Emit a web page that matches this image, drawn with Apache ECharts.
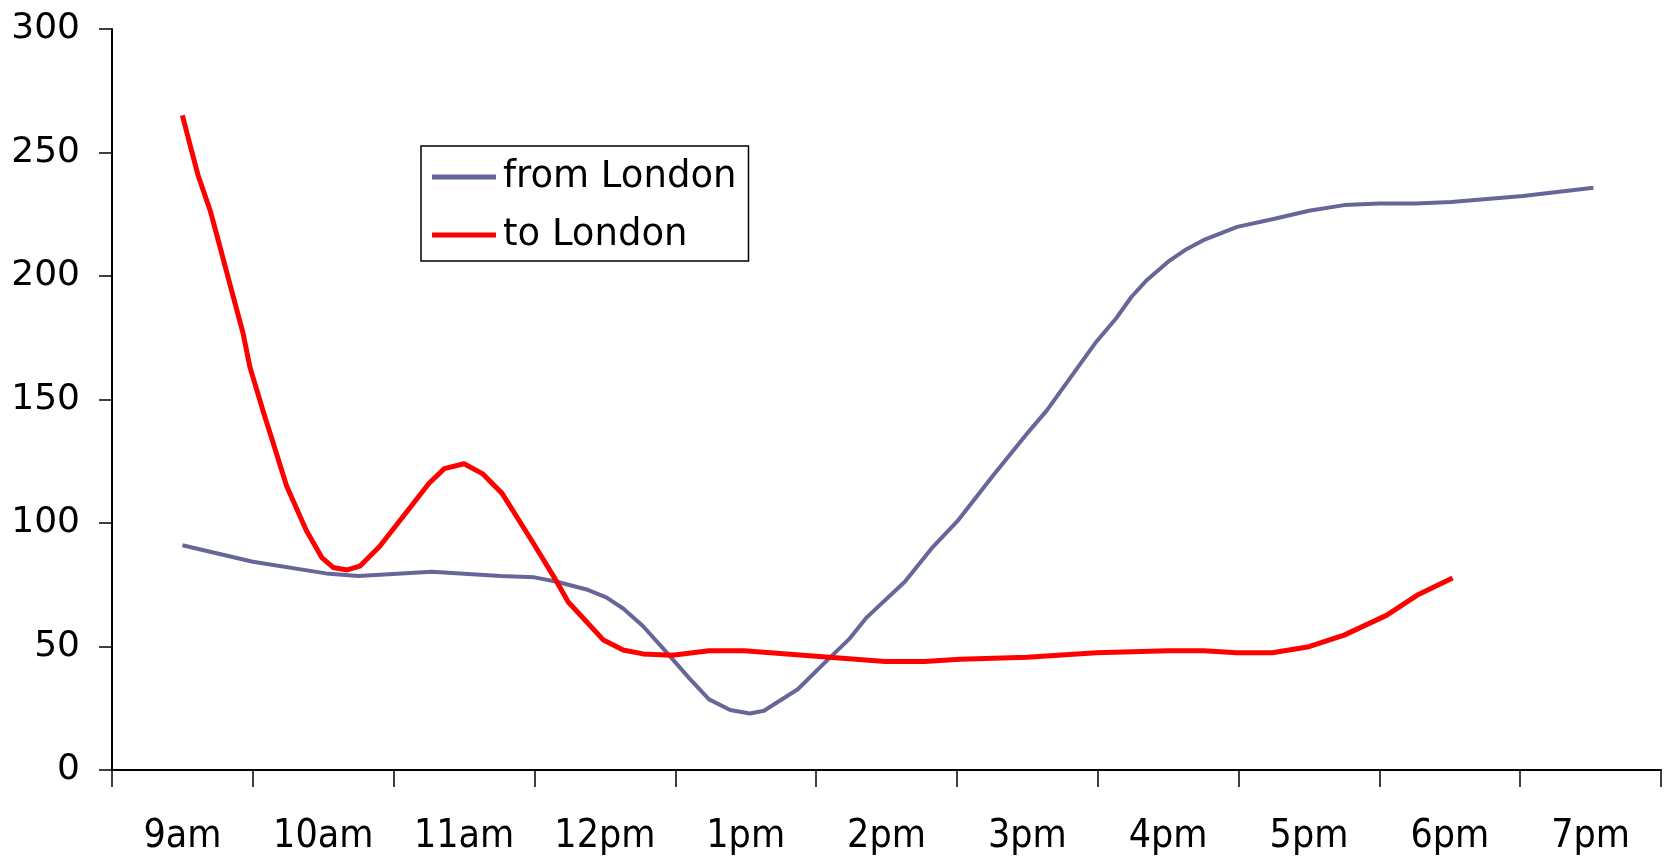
<!DOCTYPE html>
<html>
<head>
<meta charset="utf-8">
<title>Journeys from and to London</title>
<script src="https://cdn.jsdelivr.net/npm/echarts@6/dist/echarts.min.js"></script>
<style>
  html, body { margin: 0; padding: 0; background: #ffffff; }
  #chart { width: 1672px; height: 866px; }
</style>
</head>
<body>
<div id="chart"></div>
<script>
// Hour-of-day labels, one per slot on the time axis
const hourLabels = ['9am', '10am', '11am', '12pm', '1pm', '2pm', '3pm', '4pm', '5pm', '6pm', '7pm'];

// "from London": time (decimal hours) and value
const fromTimes = [9.00, 9.50, 10.02, 10.25, 10.77, 11.26, 11.50, 11.66, 11.87, 12.01, 12.13, 12.27, 12.44, 12.60, 12.74, 12.89, 13.03, 13.13, 13.37, 13.58, 13.74, 13.86, 14.13, 14.32, 14.51, 14.76, 15.01, 15.14, 15.49, 15.63, 15.74, 15.85, 16.00, 16.12, 16.25, 16.49, 16.74, 17.00, 17.25, 17.50, 17.76, 18.01, 18.52, 19.02];
const fromValues = [91, 84.3, 79.6, 78.5, 80.3, 78.5, 78, 76.2, 73.1, 69.9, 65.4, 58.3, 47.5, 37.1, 28.6, 24.3, 22.9, 24, 32.7, 44.5, 53.3, 61.8, 76.2, 89.7, 101.2, 119.4, 137, 145.7, 173.4, 182.8, 191.6, 198.4, 205.8, 210.5, 214.5, 219.9, 223, 226.4, 228.7, 229.4, 229.4, 230, 232.4, 235.7];

// "to London": time (decimal hours) and value
const toTimes = [9.00, 9.05, 9.11, 9.20, 9.28, 9.35, 9.43, 9.48, 9.58, 9.63, 9.74, 9.88, 9.99, 10.07, 10.17, 10.26, 10.40, 10.62, 10.75, 10.86, 11.00, 11.13, 11.27, 11.49, 11.64, 11.74, 11.87, 11.99, 12.13, 12.27, 12.48, 12.74, 12.99, 13.50, 13.99, 14.27, 14.52, 15.00, 15.49, 16.00, 16.25, 16.49, 16.74, 17.00, 17.25, 17.55, 17.77, 18.02];
const toValues = [265, 254, 241, 226, 209, 194, 177, 163, 144, 135, 115, 97, 86, 82, 81, 82.5, 90.5, 106.5, 116, 122, 124, 120, 112, 92, 78, 68, 60, 52.6, 48.6, 47, 46.5, 48.3, 48.3, 46.1, 43.9, 43.9, 44.8, 45.6, 47.5, 48.3, 48.3, 47.5, 47.5, 49.9, 54.6, 62.6, 70.8, 77.7];

// Value axis ticks
const yMin = 0, yMax = 300, yStep = 50;

const pairs = (xs, ys) => xs.map((x, i) => [x, ys[i]]);

const chart = echarts.init(document.getElementById('chart'), null, { renderer: 'canvas' });

chart.setOption({
  backgroundColor: '#ffffff',
  animation: false,
  grid: { left: 112, right: 11, top: 29, bottom: 96, containLabel: false },
  legend: {
    orient: 'vertical',
    left: 421,
    top: 146,
    padding: [8, 12, 3, 11],
    itemGap: 12,
    itemWidth: 64,
    itemHeight: 5,
    icon: 'rect',
    borderColor: '#000000',
    borderWidth: 1.5,
    backgroundColor: '#ffffff',
    textStyle: { fontFamily: 'DejaVu Sans', fontSize: 37, color: '#000000', lineHeight: 42, padding: [4, 0, 0, 2] },
    data: ['from London', 'to London']
  },
  xAxis: [
    {
      type: 'category',
      data: hourLabels,
      boundaryGap: true,
      axisLine: { show: true, lineStyle: { color: '#000000', width: 2 } },
      axisTick: { show: true, length: 17, alignWithLabel: false, lineStyle: { color: '#000000', width: 1.5 } },
      axisLabel: { margin: 47, fontFamily: 'DejaVu Sans Condensed', fontSize: 39, color: '#000000' },
      splitLine: { show: false }
    },
    {
      type: 'value',
      min: 8.5,
      max: 19.5,
      show: false,
      splitLine: { show: false }
    }
  ],
  yAxis: {
    type: 'value',
    min: yMin,
    max: yMax,
    interval: yStep,
    axisLine: { show: true, lineStyle: { color: '#000000', width: 2 } },
    axisTick: { show: true, length: 13, lineStyle: { color: '#000000', width: 1.5 } },
    axisLabel: { margin: 32, fontFamily: 'DejaVu Sans', fontSize: 36, color: '#000000' },
    splitLine: { show: false }
  },
  series: [
    {
      name: 'from London',
      type: 'line',
      xAxisIndex: 1,
      data: pairs(fromTimes, fromValues),
      showSymbol: false,
      smooth: false,
      color: '#666699',
      lineStyle: { color: '#666699', width: 4 },
      z: 2
    },
    {
      name: 'to London',
      type: 'line',
      xAxisIndex: 1,
      data: pairs(toTimes, toValues),
      showSymbol: false,
      smooth: false,
      color: '#ff0000',
      lineStyle: { color: '#ff0000', width: 5 },
      z: 3
    }
  ]
});
</script>
</body>
</html>
